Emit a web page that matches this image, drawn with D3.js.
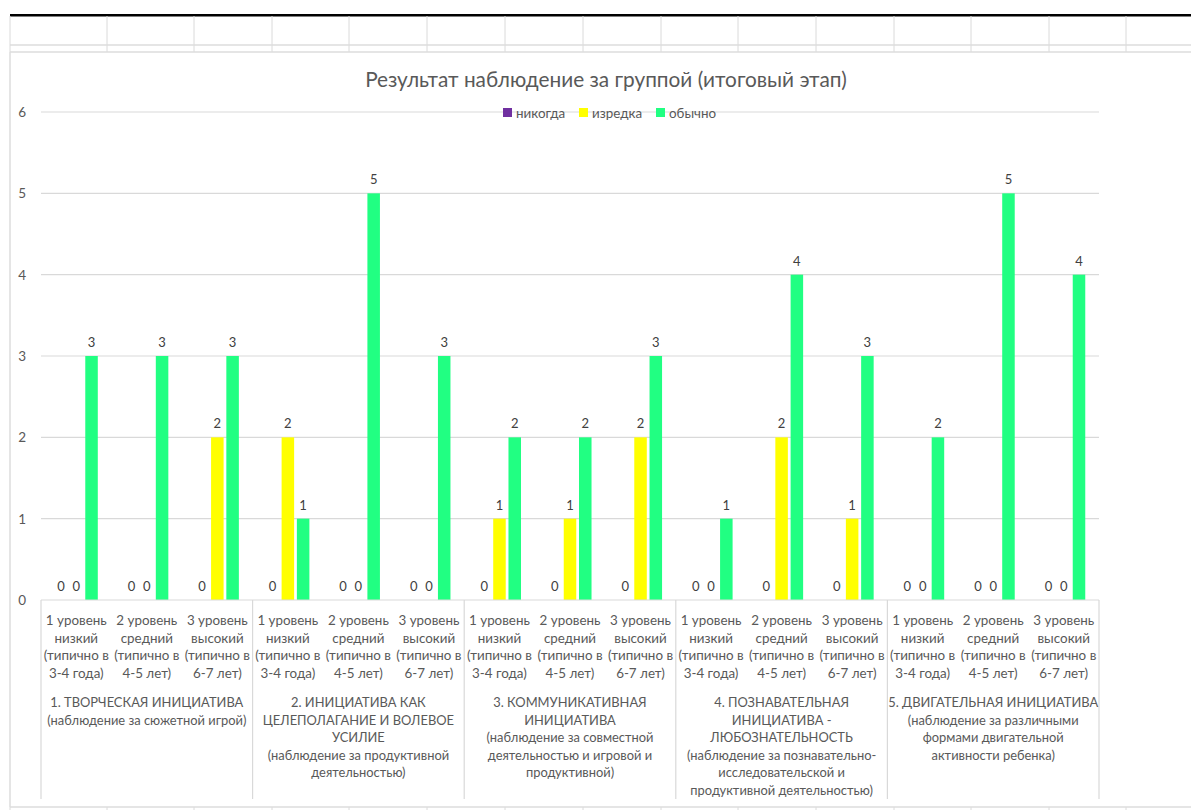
<!DOCTYPE html>
<html>
<head>
<meta charset="utf-8">
<script src="https://cdn.jsdelivr.net/npm/d3@7"></script>
<style>
  body { margin: 0; background: #fff; }
  text { font-family: Lato, "Open Sans", sans-serif; }
</style>
</head>
<body>
<svg id="chart"></svg>
<script>
const seriesNames = ["никогда", "изредка", "обычно"];
const colors = { "никогда": "#7030a0", "изредка": "#ffff00", "обычно": "#21ff82" };

// 15 sub-categories (5 groups x 3 levels)
const never = [0, 0, 0, 0, 0, 0, 0, 0, 0, 0, 0, 0, 0, 0, 0];
const rarely = [0, 0, 2, 2, 0, 0, 1, 1, 2, 0, 2, 1, 0, 0, 0];
const usually = [3, 3, 3, 1, 5, 3, 2, 2, 3, 1, 4, 3, 2, 5, 4];

const levelLabels = [
    ["1 уровень", "низкий", "(типично в", "3-4 года)"],
    ["2 уровень", "средний", "(типично в", "4-5 лет)"],
    ["3 уровень", "высокий", "(типично в", "6-7 лет)"]
];
const groupLabels = [
    ["1. ТВОРЧЕСКАЯ ИНИЦИАТИВА", "(наблюдение за сюжетной игрой)"],
    ["2. ИНИЦИАТИВА КАК", "ЦЕЛЕПОЛАГАНИЕ И ВОЛЕВОЕ", "УСИЛИЕ", "(наблюдение за продуктивной", "деятельностью)"],
    ["3. КОММУНИКАТИВНАЯ", "ИНИЦИАТИВА", "(наблюдение за совместной", "деятельностью и игровой и", "продуктивной)"],
    ["4. ПОЗНАВАТЕЛЬНАЯ", "ИНИЦИАТИВА -", "ЛЮБОЗНАТЕЛЬНОСТЬ", "(наблюдение за познавательно-", "исследовательской и", "продуктивной деятельностью)"],
    ["5. ДВИГАТЕЛЬНАЯ ИНИЦИАТИВА", "(наблюдение за различными", "формами двигательной", "активности ребенка)"]
];
const yTicks = [0, 1, 2, 3, 4, 5, 6];
const title = "Результат наблюдение за группой (итоговый этап)";

const W = 1191, H = 810;
const svg = d3.select("#chart").attr("width", W).attr("height", H);

// spreadsheet background
const colLines = [10, 107, 194, 272, 349, 427, 505, 583, 661, 738, 816, 894, 971, 1049, 1126];
const sheet = svg.append("g");
sheet.append("rect").attr("x", 10).attr("y", 14).attr("width", W - 10).attr("height", 2.5).attr("fill", "#000");
sheet.selectAll("line.col").data(colLines).enter().append("line")
    .attr("x1", d => d).attr("x2", d => d).attr("y1", 16).attr("y2", 52)
    .attr("stroke", "#dadada");
sheet.selectAll("line.colb").data(colLines).enter().append("line")
    .attr("x1", d => d).attr("x2", d => d).attr("y1", 807).attr("y2", H)
    .attr("stroke", "#dadada");
[45, 52, 807].forEach(y => {
    sheet.append("line").attr("x1", 10).attr("x2", W).attr("y1", y).attr("y2", y)
        .attr("stroke", "#dcdcdc").attr("stroke-width", 1.5);
});
sheet.append("line").attr("x1", 10).attr("x2", 10).attr("y1", 52).attr("y2", 807)
    .attr("stroke", "#dcdcdc").attr("stroke-width", 1.5);

// chart
const subs = d3.range(never.length);
const data = subs.map(i => ({ i, "никогда": never[i], "изредка": rarely[i], "обычно": usually[i] }));

const x0 = d3.scaleBand().domain(subs).range([41, 1099]);
const x1 = d3.scaleBand().domain(seriesNames).range([0, x0.bandwidth()])
    .paddingInner(0.18).paddingOuter(0.9);
const y = d3.scaleLinear().domain([0, 6]).range([600, 112]);

const g = svg.append("g");

g.selectAll("line.grid").data(yTicks.slice(1)).enter().append("line")
    .attr("x1", 41).attr("x2", 1099)
    .attr("y1", d => y(d)).attr("y2", d => y(d))
    .attr("stroke", "#d9d9d9").attr("stroke-width", 1.2);

g.selectAll("text.ytick").data(yTicks).enter().append("text")
    .attr("x", 26).attr("y", d => y(d) + 5)
    .attr("text-anchor", "end")
    .attr("font-size", 13.5).attr("fill", "#595959")
    .text(d => d);

// bars
const sub = g.selectAll("g.sub").data(data).enter().append("g")
    .attr("transform", d => `translate(${x0(d.i)},0)`);
sub.selectAll("rect").data(d => seriesNames.map(k => ({ k, v: d[k] }))).enter().append("rect")
    .attr("x", d => x1(d.k)).attr("width", x1.bandwidth())
    .attr("y", d => y(d.v)).attr("height", d => y(0) - y(d.v))
    .attr("fill", d => colors[d.k]);
sub.selectAll("text").data(d => seriesNames.map(k => ({ k, v: d[k] }))).enter().append("text")
    .attr("x", d => x1(d.k) + x1.bandwidth() / 2)
    .attr("y", d => y(d.v) - 9)
    .attr("text-anchor", "middle")
    .attr("font-size", 13).attr("fill", "#404040")
    .text(d => d.v);

// x axis
g.append("line").attr("x1", 41).attr("x2", 1099).attr("y1", 600).attr("y2", 600)
    .attr("stroke", "#d9d9d9").attr("stroke-width", 1.2);
const groupScale = d3.scaleBand().domain(d3.range(groupLabels.length)).range([41, 1099]);
g.selectAll("line.sep").data(d3.range(groupLabels.length + 1)).enter().append("line")
    .attr("x1", d => 41 + d * groupScale.step()).attr("x2", d => 41 + d * groupScale.step())
    .attr("y1", 600).attr("y2", 799)
    .attr("stroke", "#d9d9d9").attr("stroke-width", 1.2);

const lineH = 17.6;
sub.append("text")
    .attr("text-anchor", "middle")
    .attr("font-size", 13.4).attr("fill", "#595959")
    .selectAll("tspan").data(d => levelLabels[d.i % 3]).enter().append("tspan")
    .attr("x", x0.bandwidth() / 2)
    .attr("y", (d, j) => 625 + j * lineH)
    .text(d => d);

g.selectAll("text.group").data(groupLabels).enter().append("text")
    .attr("text-anchor", "middle")
    .attr("font-size", 12.9).attr("fill", "#595959")
    .each(function(lines, gi) {
        d3.select(this).selectAll("tspan").data(lines).enter().append("tspan")
            .attr("x", groupScale(gi) + groupScale.bandwidth() / 2)
            .attr("y", (d, j) => 707 + j * lineH)
            .text(d => d);
    });

// title
svg.append("text").attr("x", 606).attr("y", 87)
    .attr("text-anchor", "middle")
    .attr("font-size", 20.8).attr("fill", "#595959")
    .text(title);

// legend
const legendX = [503, 579, 656];
const legend = svg.selectAll("g.leg").data(seriesNames).enter().append("g")
    .attr("transform", (d, i) => `translate(${legendX[i]},108)`);
legend.append("rect").attr("width", 9).attr("height", 9).attr("fill", d => colors[d]);
legend.append("text").attr("x", 13).attr("y", 9.5)
    .attr("font-size", 13.4).attr("fill", "#595959")
    .text(d => d);
</script>
</body>
</html>
